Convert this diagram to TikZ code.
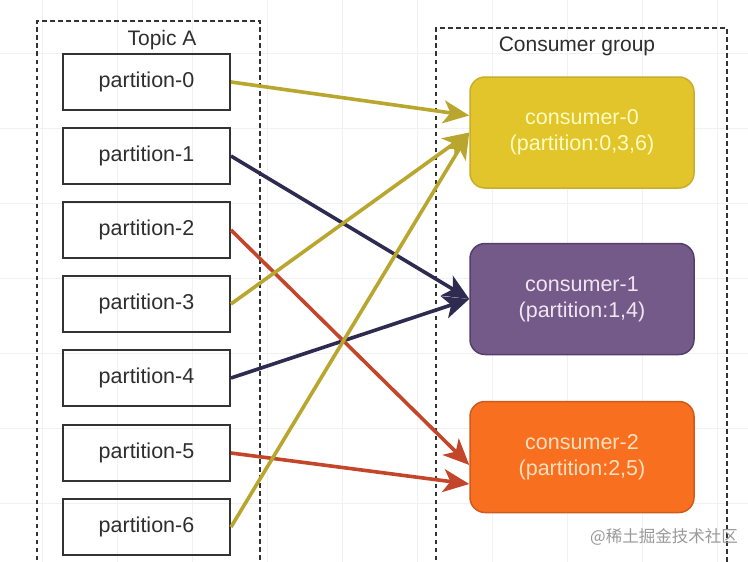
\documentclass[tikz,border=0pt]{standalone}
\usepackage{fontspec}
\setmainfont{Liberation Sans}
\newfontfamily\cjk{Noto Sans CJK SC}
\usetikzlibrary{arrows.meta}
\definecolor{yarrow}{HTML}{B9A62E}
\definecolor{narrow}{HTML}{2E2A50}
\definecolor{rarrow}{HTML}{C4462A}
\definecolor{cyel}{HTML}{E2C52B}
\definecolor{cyelb}{HTML}{C8AC2C}
\definecolor{cpur}{HTML}{735A88}
\definecolor{cpurb}{HTML}{55406C}
\definecolor{cora}{HTML}{F8701F}
\definecolor{corab}{HTML}{D05A1A}
\definecolor{boxline}{HTML}{333333}
\definecolor{gridc}{HTML}{F1F1F1}
\tikzset{
  pbox/.style={draw=boxline, line width=2pt, minimum width=167pt, minimum height=56pt, inner sep=0pt, font=\fontsize{21.5}{25}\selectfont, text=black!82},
  cbox/.style={rounded corners=15pt, line width=1.5pt, minimum width=224pt, minimum height=111pt, inner sep=0pt, align=center, font=\fontsize{21.5}{26}\selectfont},
  grp/.style={draw=boxline, line width=2.2pt, dash pattern=on 4.5pt off 3.5pt},
  conn/.style={line width=3.6pt, -{Stealth[length=26pt, width=23pt, inset=7pt]}},
  lbl/.style={font=\fontsize{21}{25}\selectfont, text=black!82, inner sep=0pt}
}
\begin{document}
\begin{tikzpicture}[x=1pt, y=-1pt]
\useasboundingbox (0,0) rectangle (748,562);
\clip (0,0) rectangle (748,562);
\fill[white] (0,0) rectangle (748,562);
% faint background grid
\foreach \gx in {42,117,192,267,342,417,492,567,642,717}
  \draw[gridc, line width=0.8pt] (\gx,0) -- (\gx,562);
\foreach \gy in {53,128,203,278,353,428,503}
  \draw[gridc, line width=0.8pt] (0,\gy) -- (748,\gy);
% containers
\draw[grp] (37,600) -- (37,21) -- (260,21) -- (260,600);
\draw[grp] (436,600) -- (436,28) -- (727,28) -- (727,600);
\node[lbl] (ta) at (162,40) {Topic A};
\node[lbl] (cg) at (577,46) {Consumer group};
% partitions
\node[pbox] (p0) at (146.5,82) {partition-0};
\node[pbox] (p1) at (146.5,156) {partition-1};
\node[pbox] (p2) at (146.5,230) {partition-2};
\node[pbox] (p3) at (146.5,304) {partition-3};
\node[pbox] (p4) at (146.5,378) {partition-4};
\node[pbox] (p5) at (146.5,453) {partition-5};
\node[pbox] (p6) at (146.5,527) {partition-6};
% consumers
\node[cbox, fill=cyel, draw=cyelb, text=yellow!25!white] (c0) at (582,132.5) {consumer-0\\(partition:0,3,6)};
\node[cbox, fill=cpur, draw=cpurb, text=violet!10!white] (c1) at (582,299) {consumer-1\\(partition:1,4)};
\node[cbox, fill=cora, draw=corab, text=orange!25!white] (c2) at (582,457) {consumer-2\\(partition:2,5)};
% connectors
\draw[conn, draw=narrow, fill=narrow] (p1.east) -- (c1.west);
\draw[conn, draw=narrow, fill=narrow] (p4.east) -- (c1.west);
\draw[conn, draw=rarrow, fill=rarrow] (p2.east) -- ([yshift=-8pt]c2.west);
\draw[conn, draw=rarrow, fill=rarrow] (p5.east) -- ([yshift=-27pt]c2.west);
\draw[conn, draw=yarrow, fill=yarrow] (p0.east) -- ([yshift=17pt]c0.west);
\draw[conn, draw=yarrow, fill=yarrow] (p3.east) -- (c0.west);
\draw[conn, draw=yarrow, fill=yarrow] (p6.east) -- (c0.west);
% watermark
\node[font=\cjk\fontsize{16.5}{20}\selectfont, text=black!40, inner sep=0pt] (wm) at (664,537) {@稀土掘金技术社区};
\end{tikzpicture}
\end{document}
